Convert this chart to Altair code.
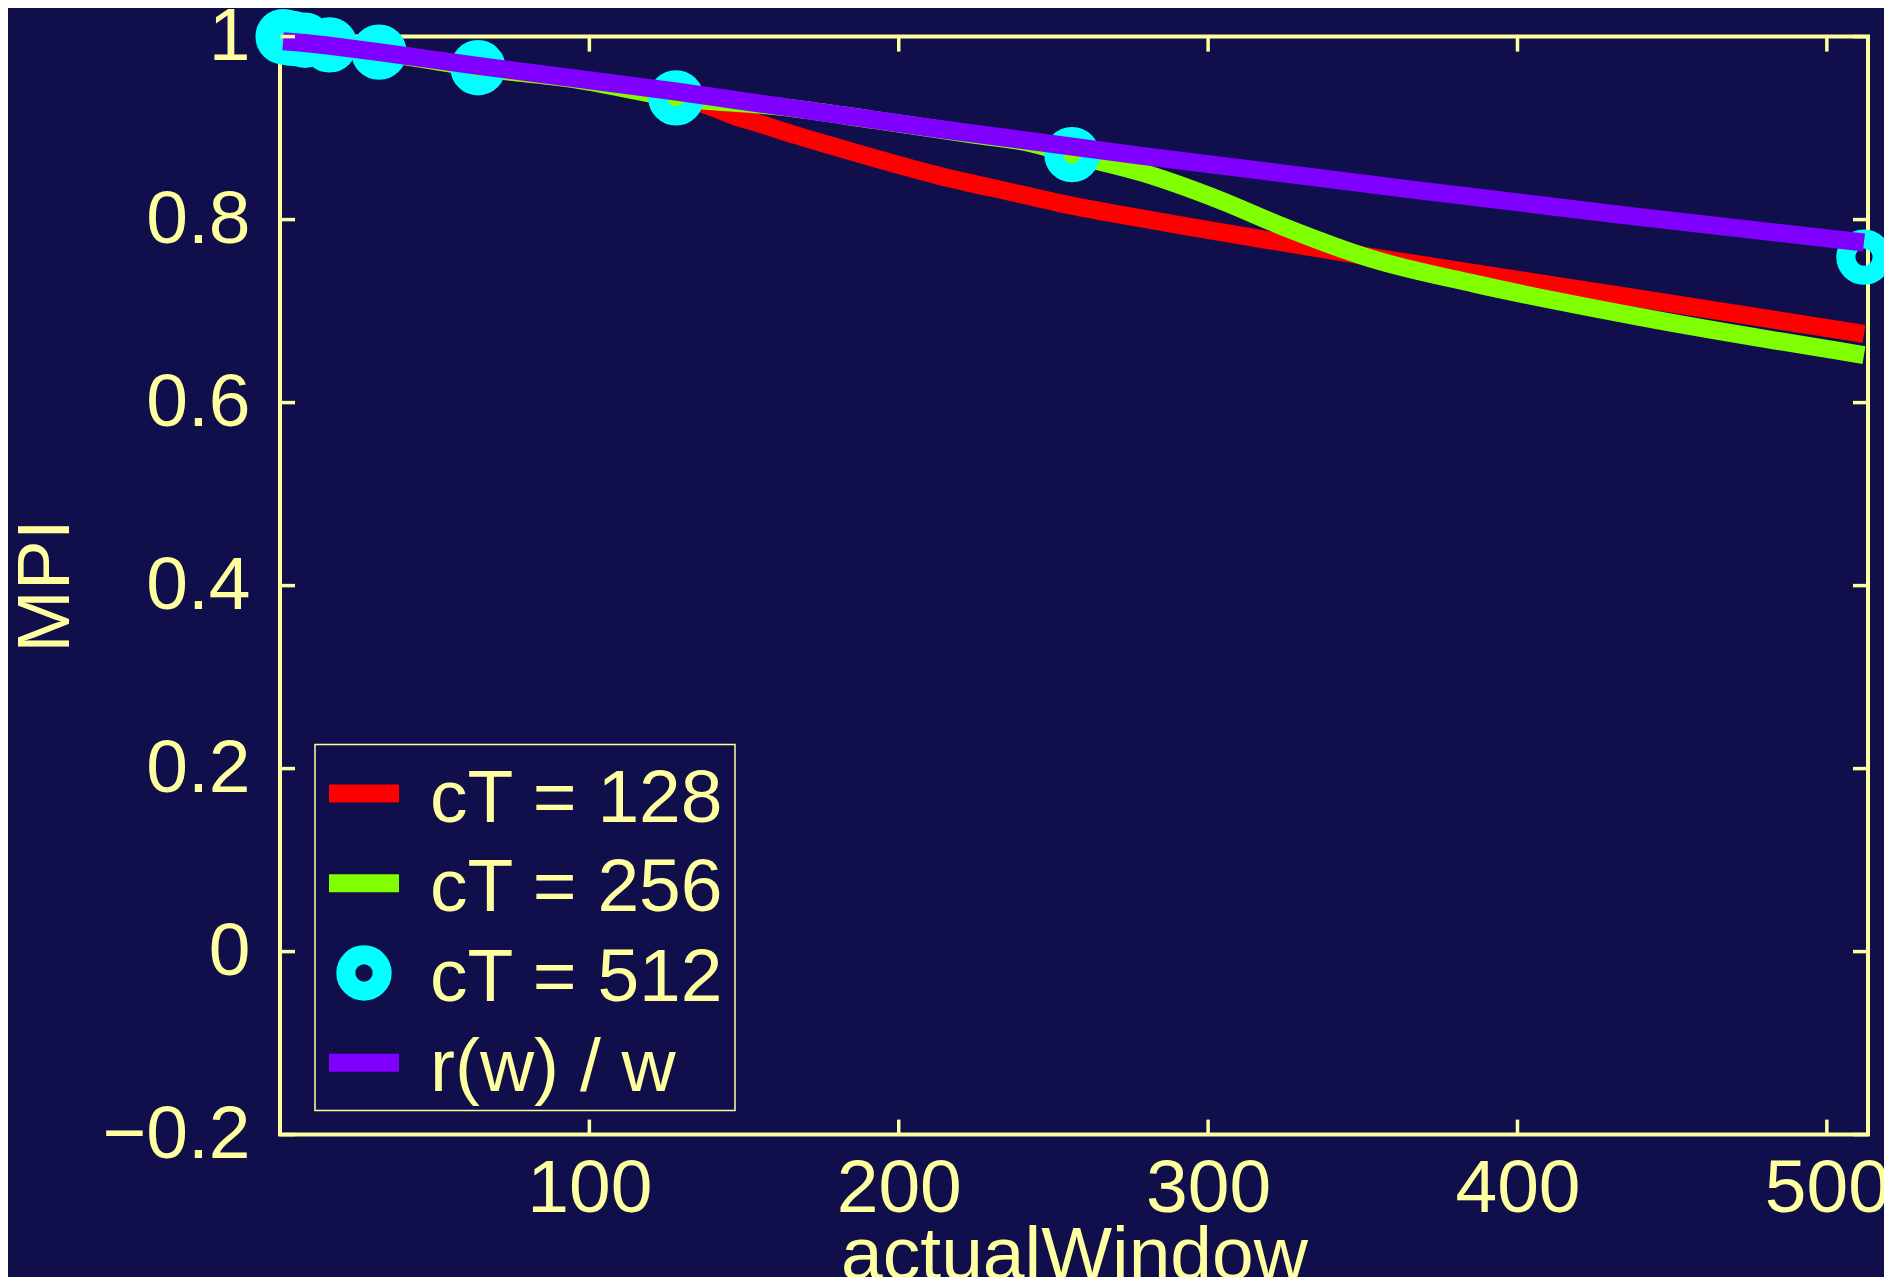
import altair as alt
import pandas as pd

# ---------------- data ----------------
x_ct128 = [1, 2, 4, 8, 16, 32, 64, 96, 128, 137, 148, 155, 166, 177, 213, 239, 252, 284,
           353, 439, 512]
y_ct128 = [1.0, 0.999, 0.998, 0.996, 0.991, 0.983, 0.966, 0.953, 0.933, 0.926, 0.912,
           0.905, 0.893, 0.882, 0.848, 0.828, 0.818, 0.798, 0.759, 0.714, 0.675]

x_ct256 = [1, 2, 4, 8, 16, 32, 64, 96, 128, 160, 192, 224, 242, 256, 279, 304, 323, 353,
           386, 439, 512]
y_ct256 = [1.0, 0.999, 0.998, 0.996, 0.991, 0.983, 0.966, 0.953, 0.933, 0.924, 0.909,
           0.893, 0.884, 0.871, 0.851, 0.821, 0.794, 0.757, 0.730, 0.694, 0.652]

x_ct512 = [1, 2, 4, 8, 16, 32, 64, 128, 256, 512]
y_ct512 = [1.0, 0.999, 0.998, 0.996, 0.991, 0.983, 0.966, 0.933, 0.871, 0.759]

x_rw = [1, 8, 16, 32, 64, 128, 213, 278, 368, 439, 512]
y_rw = [0.995, 0.993, 0.990, 0.983, 0.968, 0.940, 0.899, 0.870, 0.832, 0.803, 0.775]

x_ticks = [100, 200, 300, 400, 500]
y_ticks = [-0.2, 0, 0.2, 0.4, 0.6, 0.8, 1.0]

legend_labels = ["cT = 128", "cT = 256", "cT = 512", "r(w) / w"]

# ---------------- style ----------------
W, H = 1588, 1098
NAVY = "#100F4C"
CREAM = "#FFFFA0"
RED, GREEN, CYAN, PURPLE = "#FF0000", "#80FF00", "#00FFFF", "#8000FF"
FONT = "Liberation Sans"
FS = 75
LW = 18

xs = alt.Scale(domain=[0, 513.3], nice=False, zero=False)
ys = alt.Scale(domain=[-0.2, 1.0], nice=False, zero=False)

xaxis = alt.Axis(values=x_ticks, format="d", domain=False, ticks=False, grid=False,
                 labelFontSize=FS, labelFont=FONT, labelColor=CREAM, labelPadding=18,
                 labelFlush=False, labelOverlap=False,
                 title="actualWindow", titleFont=FONT, titleFontSize=FS,
                 titleFontWeight="normal", titleColor=CREAM,
                 titleX=W / 2, titleY=144, titleBaseline="alphabetic", titleAlign="center")
yaxis = alt.Axis(values=y_ticks, format="~g", domain=False, ticks=False, grid=False,
                 labelFontSize=FS, labelFont=FONT, labelColor=CREAM, labelPadding=30,
                 labelFlush=False, labelOverlap=False,
                 title="MPI", titleFont=FONT, titleFontSize=FS,
                 titleFontWeight="normal", titleColor=CREAM,
                 titleX=-235, titleY=H / 2, titleAngle=270,
                 titleBaseline="middle", titleAlign="center")


def X():
    return alt.X("x:Q", scale=xs, axis=xaxis)


def Y():
    return alt.Y("y:Q", scale=ys, axis=yaxis)


def line(xv, yv, color, interp):
    return alt.Chart(pd.DataFrame({"x": xv, "y": yv})).mark_line(
        color=color, strokeWidth=LW, strokeCap="butt", strokeJoin="round",
        interpolate=interp).encode(x=X(), y=Y())


red = line(x_ct128, y_ct128, RED, "monotone")
green = line(x_ct256, y_ct256, GREEN, "monotone")
purple = line(x_rw, y_rw, PURPLE, "linear")
rings = alt.Chart(pd.DataFrame({"x": x_ct512, "y": y_ct512})).mark_point(
    shape="circle", filled=False, stroke=CYAN, strokeWidth=19, size=1320, opacity=1
).encode(x=X(), y=Y())

# inward tick marks on all four sides
TL = 15
xt = pd.DataFrame({"x": x_ticks})
yt = pd.DataFrame({"y": y_ticks})
tick_style = dict(color=CREAM, strokeWidth=3.5)
t_bottom = alt.Chart(xt).mark_rule(**tick_style).encode(
    x=X(), y=alt.value(H), y2=alt.value(H - TL))
t_top = alt.Chart(xt).mark_rule(**tick_style).encode(
    x=X(), y=alt.value(0), y2=alt.value(TL))
t_left = alt.Chart(yt).mark_rule(**tick_style).encode(
    y=Y(), x=alt.value(0), x2=alt.value(TL))
t_right = alt.Chart(yt).mark_rule(**tick_style).encode(
    y=Y(), x=alt.value(W), x2=alt.value(W - TL))

# legend (drawn by hand)
one = pd.DataFrame({"a": [0]})
layers = [red, green, rings, purple, t_bottom, t_top, t_left, t_right]
layers.append(alt.Chart(one).mark_rect(fill=NAVY, stroke=CREAM, strokeWidth=1.5).encode(
    x=alt.value(35), x2=alt.value(455), y=alt.value(708), y2=alt.value(1074)))
leg_colors = [RED, GREEN, CYAN, PURPLE]
for i, lab in enumerate(legend_labels):
    yc = 757 + 89.7 * i
    if lab == "cT = 512":
        layers.append(alt.Chart(one).mark_point(
            shape="circle", filled=False, stroke=CYAN, strokeWidth=19, size=1320, opacity=1
        ).encode(x=alt.value(84), y=alt.value(yc)))
    else:
        layers.append(alt.Chart(one).mark_rule(color=leg_colors[i], strokeWidth=LW,
                                               strokeCap="butt").encode(
            x=alt.value(49), x2=alt.value(119), y=alt.value(yc)))
    layers.append(alt.Chart(one).mark_text(
        align="left", baseline="alphabetic", font=FONT, fontSize=FS, color=CREAM
    ).encode(x=alt.value(150), y=alt.value(yc + 28), text=alt.value(lab)))

chart = alt.layer(*layers).properties(
    width=W, height=H,
    autosize=alt.AutoSizeParams(type="none"),
    padding={"left": 272, "top": 28.6, "right": 16, "bottom": 142},
    background=NAVY,
).configure_view(stroke=CREAM, strokeWidth=4, fill=NAVY)

chart.save("out.html", embed_options={"renderer": "svg", "actions": False})
